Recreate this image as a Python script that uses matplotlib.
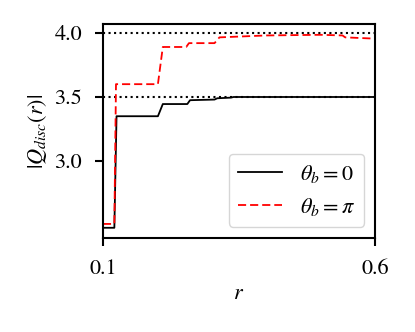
import matplotlib
matplotlib.use('Agg')
import matplotlib.pyplot as plt

# valores
r_cero = [0.1, 0.121, 0.125, 0.201, 0.21, 0.255, 0.26, 0.305, 0.31, 0.335, 0.34, 0.6]
q_cero = [2.48, 2.48, 3.35, 3.35, 3.445, 3.445, 3.475, 3.48, 3.49, 3.495, 3.5, 3.5]

r_pi = [0.1, 0.121, 0.124, 0.201, 0.21, 0.253, 0.258, 0.305, 0.314, 0.4, 0.5, 0.54, 0.545, 0.6]
q_pi = [2.51, 2.51, 3.60, 3.60, 3.89, 3.89, 3.92, 3.92, 3.965, 3.98, 3.985, 3.98, 3.965, 3.955]

niveles = [4.0, 3.5]

plt.rcParams['font.family'] = 'STIXGeneral'
plt.rcParams['mathtext.fontset'] = 'stix'
plt.rcParams['font.size'] = 16

fig = plt.figure(figsize=(4.15, 3.32), dpi=100)
ax = fig.add_axes([0.248, 0.283, 0.656, 0.645])

for y in niveles:
    ax.axhline(y, color='black', linestyle=':', linewidth=1.5)

ax.plot(r_cero, q_cero, color='black', linewidth=1.3, label=r'$\theta_b=0$')
ax.plot(r_pi, q_pi, color='red', linestyle=(0, (4.5, 2.2)), linewidth=1.3, label=r'$\theta_b=\pi$')

ax.set_xlim(0.1, 0.6)
ax.set_ylim(2.40, 4.07)
ax.set_xticks([0.1, 0.6])
ax.set_yticks([3.0, 3.5, 4.0])
ax.set_xlabel(r'$r$')
ax.set_ylabel(r'$|Q_{disc}(r)|$')
for s in ax.spines.values():
    s.set_linewidth(1.5)
ax.tick_params(width=1.5, length=6, pad=9)
ax.legend(loc='lower right', fontsize=16)

fig.savefig('out.png', dpi=100)
